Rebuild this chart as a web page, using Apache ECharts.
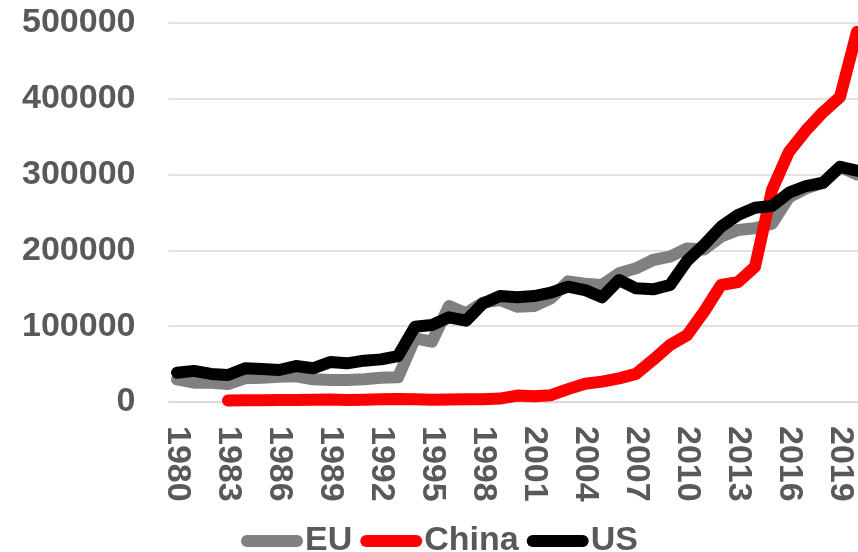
<!DOCTYPE html>
<html>
<head>
<meta charset="utf-8">
<script src="https://cdn.jsdelivr.net/npm/echarts@6/dist/echarts.min.js"></script>
<style>
  html, body { margin: 0; padding: 0; background: #fff; }
  #chart { width: 858px; height: 552px; }
</style>
</head>
<body>
<div id="chart"></div>
<script>
// years on the x axis
const years = [];
for (let y = 1980; y <= 2020; y++) years.push(String(y));

// values
const euValues = [29900, 25500, 25500, 23700, 31200, 32000, 33300, 33800, 29900, 29000,
  29000, 29900, 32000, 32500, 84000, 79500, 126500, 116900, 130900, 134500,
  125600, 126500, 136700, 159000, 156000, 154200, 169600, 176200, 187200, 191500,
  202500, 201000, 217900, 226700, 229000, 235000, 270000, 281600, 289000, 310000, 300000];

const chinaValues = [null, null, null, 2000, 2200, 2300, 2500, 2700, 3000, 3200,
  2500, 3000, 3500, 4000, 3500, 3000, 3200, 3500, 3600, 4500,
  8500, 7500, 9000, 17000, 24000, 26800, 31200, 37000, 55400, 75100,
  88000, 119000, 154200, 158000, 178300, 279400, 330000, 358000, 382000, 402000, 488000];

const usValues = [38600, 41000, 37000, 35600, 44400, 43500, 42200, 47400, 44400, 52700,
  51000, 54500, 56200, 60600, 99300, 101500, 111600, 107200, 130000, 139700,
  138000, 139700, 144100, 152000, 147600, 138000, 160800, 149900, 148500, 154200,
  186000, 207000, 231000, 246500, 256000, 258300, 275900, 284700, 289000, 310000, 305000];

const seriesNames = ['EU', 'China', 'US'];
const seriesColors = ['#808080', '#ff0000', '#000000'];

const textColor = '#595959';
const font = 'Arial, "Liberation Sans", sans-serif';
// pill shaped legend icon
const pill = 'path://M6,0 H56 A6,6 0 0 1 56,12 H6 A6,6 0 0 1 6,0 Z';

const chart = echarts.init(document.getElementById('chart'));

function makeLine(name, data, color) {
  return {
    name: name,
    type: 'line',
    data: data,
    symbol: 'none',
    showSymbol: false,
    connectNulls: false,
    clip: false,
    lineStyle: { color: color, width: 12, cap: 'round', join: 'round' },
    itemStyle: { color: color }
  };
}

chart.setOption({
  animation: false,
  backgroundColor: '#ffffff',
  grid: {
    left: 168.5,
    top: 22.7,
    right: -7.5,
    bottom: 150,
    containLabel: false,
    outerBoundsMode: 'none'
  },
  legend: {
    data: seriesNames,
    left: 236,
    top: 519,
    icon: pill,
    itemWidth: 62,
    itemHeight: 12,
    itemGap: 8,
    textStyle: {
      color: textColor,
      fontSize: 34,
      fontWeight: 'bold',
      fontFamily: font,
      padding: [0, 0, 0, -3]
    }
  },
  xAxis: {
    type: 'category',
    data: years,
    boundaryGap: true,
    axisLine: { show: true, lineStyle: { color: '#d9d9d9', width: 1.5 } },
    axisTick: { show: false },
    axisLabel: {
      interval: 2,
      rotate: -90,
      margin: 24,
      color: textColor,
      fontSize: 34,
      fontWeight: 'bold',
      fontFamily: font
    },
    splitLine: { show: false }
  },
  yAxis: {
    type: 'value',
    min: 0,
    max: 500000,
    interval: 100000,
    axisLine: { show: false },
    axisTick: { show: false },
    axisLabel: {
      margin: 33,
      color: textColor,
      fontSize: 34,
      fontWeight: 'bold',
      fontFamily: font,
      formatter: function (v) { return String(v); }
    },
    splitLine: { show: true, lineStyle: { color: '#d9d9d9', width: 1.5 } }
  },
  series: [
    makeLine(seriesNames[0], euValues, seriesColors[0]),
    makeLine(seriesNames[1], chinaValues, seriesColors[1]),
    makeLine(seriesNames[2], usValues, seriesColors[2])
  ]
});
</script>
</body>
</html>
